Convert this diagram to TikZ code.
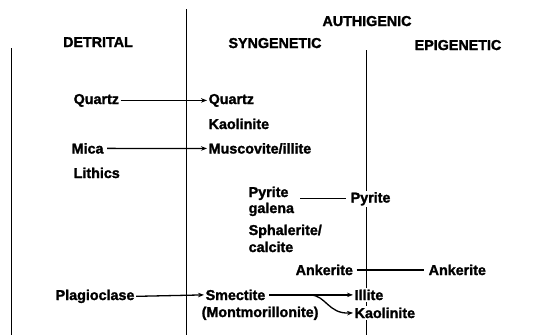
\documentclass[tikz,border=0pt]{standalone}
\usepackage{fontspec}
\setmainfont{Liberation Sans}[BoldFeatures={FakeBold=1.6}]
\usetikzlibrary{arrows.meta}
\begin{document}
\begin{tikzpicture}[x=1pt,y=-1pt,
  lbl/.style={font=\fontsize{14.3}{17}\selectfont\bfseries, anchor=base west, inner sep=1.5pt, fill=white},
  hdr/.style={font=\fontsize{14.3}{17}\selectfont\bfseries, anchor=base, inner sep=1pt},
  rule/.style={line width=1pt},
  conn/.style={line width=1.3pt},
  arr/.style={conn, -{Stealth[length=6pt,width=4.5pt]}}]
\useasboundingbox (0,0) rectangle (537,335);
% column rules
\draw[rule] (11,48) -- (11,335);
\draw[rule] (186,9) -- (186,335);
\draw[rule] (366,50) -- (366,335);
% headers
\node[hdr] (det) at (98,47) {DETRITAL};
\node[hdr] (syn) at (275,48) {SYNGENETIC};
\node[hdr] (aut) at (367,26) {AUTHIGENIC};
\node[hdr] (epi) at (458,50) {EPIGENETIC};
% detrital
\node[lbl] (qL) at (72,104) {Quartz};
\node[lbl] (mica) at (70,153.5) {Mica};
\node[lbl] (lith) at (72,178) {Lithics};
\node[lbl] (plag) at (54,300) {Plagioclase};
% syngenetic
\node[lbl] (qR) at (207,104) {Quartz};
\node[lbl] (kao1) at (207,129) {Kaolinite};
\node[lbl] (musc) at (207,153.5) {Muscovite/illite};
\node[lbl] (pyr1) at (247,197) {Pyrite};
\node[lbl] (gal) at (247,213) {galena};
\node[lbl] (sph) at (247,235) {Sphalerite/};
\node[lbl] (cal) at (247,252) {calcite};
\node[lbl] (ankL) at (294,275) {Ankerite};
\node[lbl] (smec) at (204,300) {Smectite};
\node[lbl] (mont) at (200,317) {(Montmorillonite)};
% epigenetic
\node[lbl] (pyr2) at (349,202.5) {Pyrite};
\node[lbl] (ankR) at (427,275) {Ankerite};
\node[lbl] (ill) at (353,300) {Illite};
\node[lbl] (kao2) at (353,318) {Kaolinite};
% connectors
\draw[arr] (qL.east) -- (qR.west);
\draw[arr] ([xshift=2pt]mica.east) -- (musc.west);
\draw[arr] (plag.east) -- (smec.west);
\draw[conn] ([xshift=10pt]pyr1.east |- pyr2.west) -- ([xshift=-3pt]pyr2.west);
\draw[conn] ([xshift=2pt]ankL.east) -- ([xshift=-3pt]ankR.west);
\draw[arr] ([xshift=2pt]smec.east) -- (ill.west);
\coordinate (split) at (310,295);
\draw[arr] (split) .. controls (326,295) and (328,314) .. (kao2.west);
\end{tikzpicture}
\end{document}
